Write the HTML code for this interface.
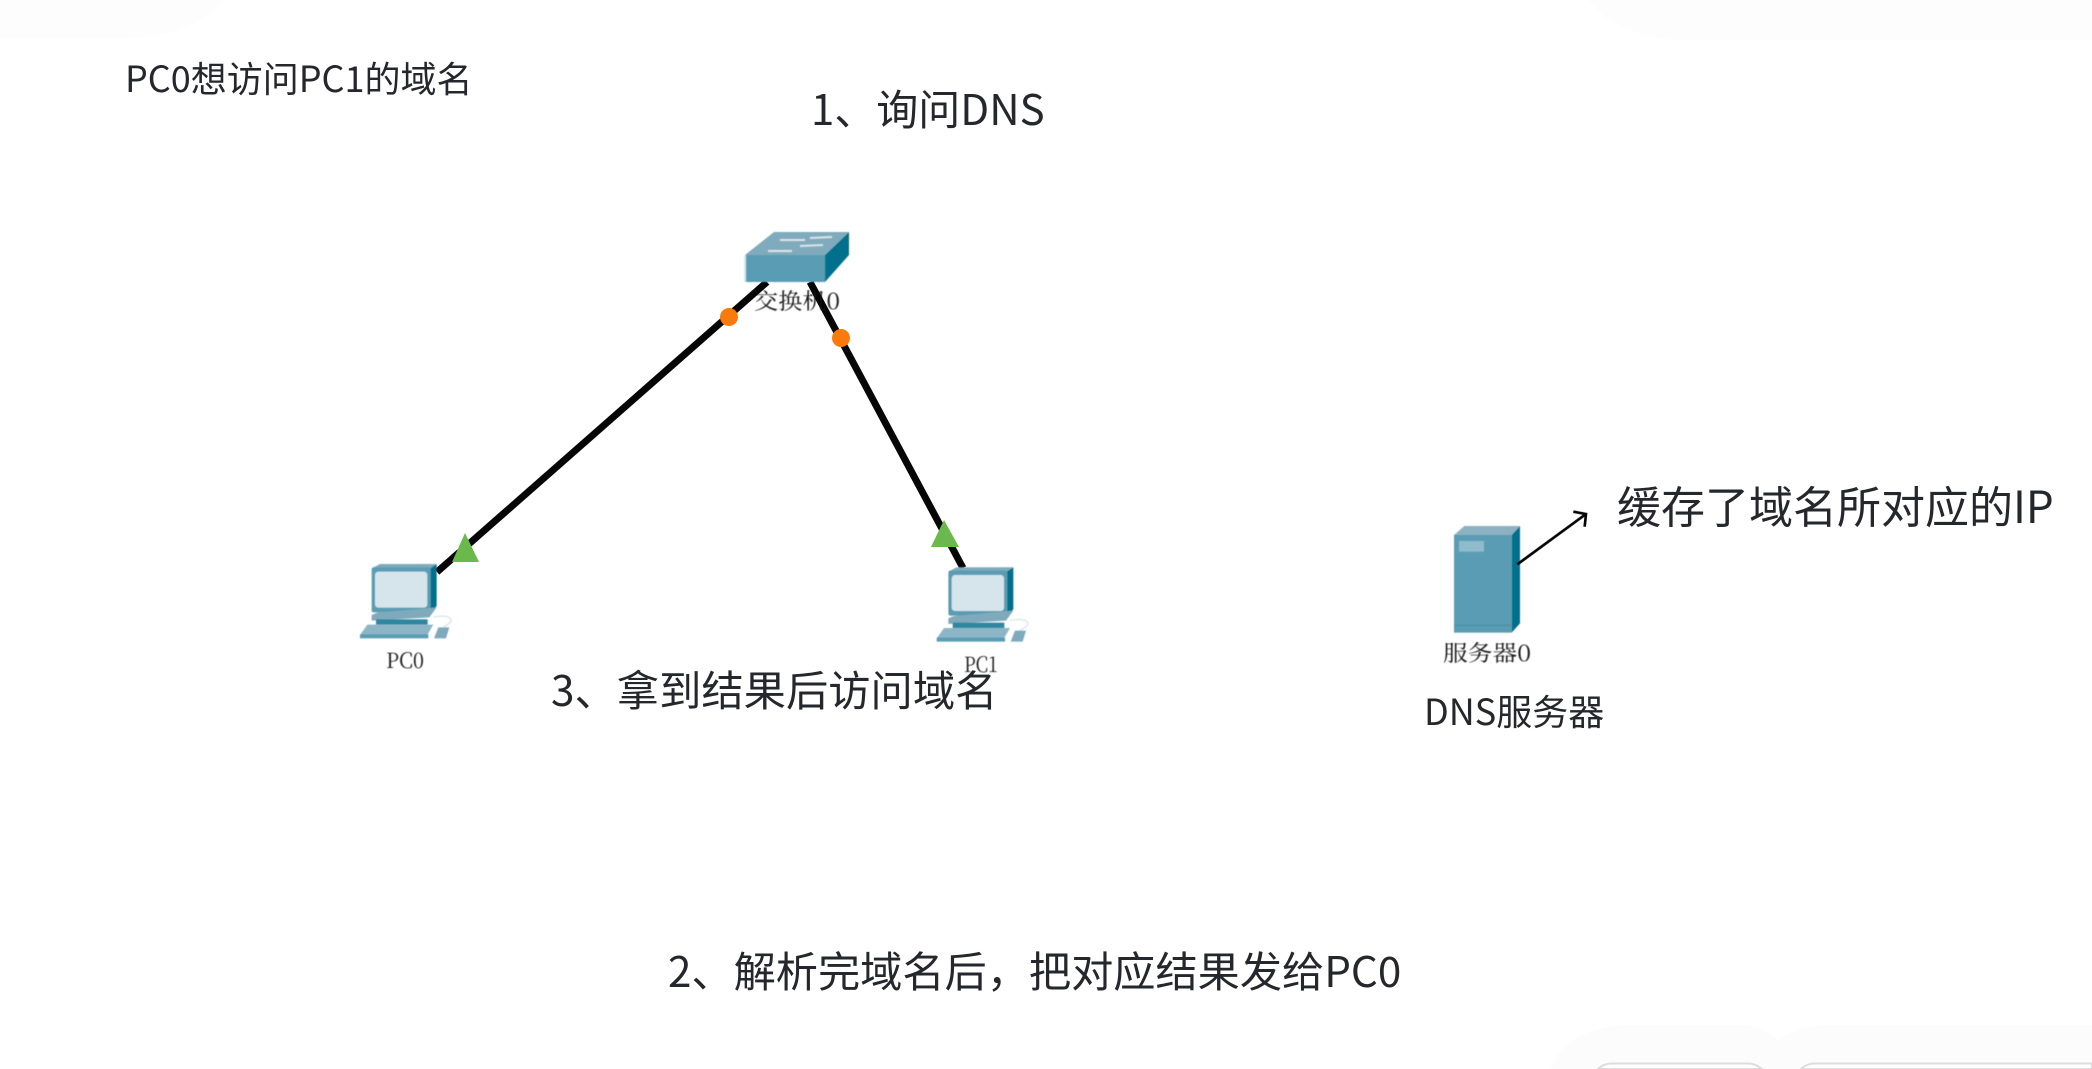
<!DOCTYPE html>
<html><head><meta charset="utf-8">
<style>
html,body{margin:0;padding:0;background:#fff;width:2092px;height:1069px;overflow:hidden}
svg{display:block}
.t{font-family:"Noto Sans CJK SC","Liberation Sans",sans-serif;fill:#25272c}
.s{font-family:"Noto Serif CJK SC","Liberation Serif",serif;fill:#151515;font-weight:400}
</style></head><body>
<svg width="2092" height="1069" viewBox="0 0 2092 1069" xmlns="http://www.w3.org/2000/svg">
<defs>
<filter id="b" x="-5%" y="-5%" width="110%" height="110%"><feGaussianBlur stdDeviation="0.5"/></filter>
<g id="pc">
<polygon points="95,145 120,132 290,132 270,145" fill="#7faabb"/>
<polygon points="270,145 290,132 290,258 270,280" fill="#04708c"/>
<rect x="95" y="142" width="177" height="135" rx="6" fill="#5a9cb3"/>
<rect x="105" y="155" width="157" height="108" rx="10" fill="#d6e5ec"/>
<polygon points="95,285 112,278 290,262 268,292 95,302" fill="#7faabb"/>
<rect x="108" y="298" width="155" height="16" fill="#2e86a0"/>
<polygon points="82,314 280,314 262,345 60,345" fill="#8cb6c6"/>
<rect x="60" y="343" width="205" height="12" fill="#5a9cb3"/>
<path d="M280 292C320 282 345 295 328 310L310 322" fill="none" stroke="#d6e5ec" stroke-width="4"/>
<polygon points="295,322 328,322 318,355 282,355" fill="#7faabb"/>
</g>
</defs>
<rect width="2092" height="1069" fill="#fff"/>
<path d="M0 0H222C205 24 170 38 120 38H0Z" fill="#fdfdfd"/>
<path d="M1589 0C1605 24 1640 40 1690 40H2092V0Z" fill="#fdfdfd"/>
<path d="M1551 1069C1560 1042 1590 1025 1630 1025H1740C1760 1025 1770 1034 1779 1040C1790 1032 1805 1025 1830 1025H2092V1069Z" fill="#fcfcfc"/>
<path d="M1598 1069C1602 1065 1607 1063.500 1612 1063.500H1748C1754 1063.500 1758 1066 1762 1069Z" fill="#fff" stroke="#ddd" stroke-width="2"/>
<path d="M1801 1069C1805 1065 1810 1063.500 1815 1063.500H2092V1069Z" fill="#fff" stroke="#ddd" stroke-width="2"/>

<text class="t" x="125" y="92" font-size="36">PC0想访问PC1的域名</text>
<text class="t" x="811" y="125" font-size="42">1、询问DNS</text>
<text class="t" x="551" y="706" font-size="42.300">3、拿到结果后访问域名</text>
<text class="t" x="668" y="987" font-size="42.200">2、解析完域名后，把对应结果发给PC0</text>
<text class="t" x="1617" y="523" font-size="44">缓存了域名所对应的IP</text>
<text class="t" x="1424" y="725" font-size="36">DNS服务器</text>

<line x1="767" y1="282" x2="437" y2="572" stroke="#060606" stroke-width="7"/>
<line x1="810" y1="282" x2="963" y2="568" stroke="#060606" stroke-width="7"/>
<circle cx="729" cy="317" r="9" fill="#fb7a0c"/>
<circle cx="841" cy="338" r="9" fill="#fb7a0c"/>
<polygon points="465,533 452,562 479,562" fill="#69b94c"/>
<polygon points="944,520 931,547 959,547" fill="#69b94c"/>

<g filter="url(#b)">
<polygon points="745,255 774,232 849,232 825,255" fill="#7fabbc"/>
<polygon points="745,255 825,255 825,282 745,282" fill="#5a9cb3"/>
<polygon points="825,255 849,232 849,255 825,282" fill="#04708c"/>
<rect x="744" y="255" width="2" height="27" fill="#cfeaf2"/>
<g stroke="#d5e4ea" stroke-width="2" fill="none"><line x1="780" y1="240" x2="805" y2="240"/><line x1="810" y1="238" x2="832" y2="237"/><line x1="768" y1="251" x2="792" y2="251"/><line x1="800" y1="246" x2="823" y2="245"/></g>
<use href="#pc" transform="translate(340,520) scale(.3333)"/>
<use href="#pc" transform="translate(916.7,523.3) scale(.3333)"/>
<g transform="translate(1420,470) scale(.3333)">
<polygon points="102,195 133,168 300,168 275,195" fill="#8cb1c1"/>
<polygon points="275,195 300,168 300,460 275,488" fill="#04708c"/>
<rect x="102" y="195" width="173" height="293" fill="#5a9cb3"/>
<rect x="117" y="213" width="75" height="32" fill="#8fbccb"/>
<line x1="102" y1="466" x2="275" y2="466" stroke="#4a8ca3" stroke-width="3"/>
</g>
<text class="s" x="754" y="309" font-size="22" textLength="86" lengthAdjust="spacingAndGlyphs">交换机0</text>
<text class="s" x="386" y="668" font-size="21" textLength="38" lengthAdjust="spacingAndGlyphs">PC0</text>
<text class="s" x="964" y="672" font-size="21" textLength="34" lengthAdjust="spacingAndGlyphs">PC1</text>
<text class="s" x="1443" y="661" font-size="22" textLength="88" lengthAdjust="spacingAndGlyphs">服务器0</text>
</g>
<g transform="translate(1420,470) scale(.3333)">
<path d="M292 283L498 132" fill="none" stroke="#060606" stroke-width="8"/>
<path d="M460 125L498 132L494 170" fill="none" stroke="#060606" stroke-width="8"/>
</g>
</svg>
</body></html>
